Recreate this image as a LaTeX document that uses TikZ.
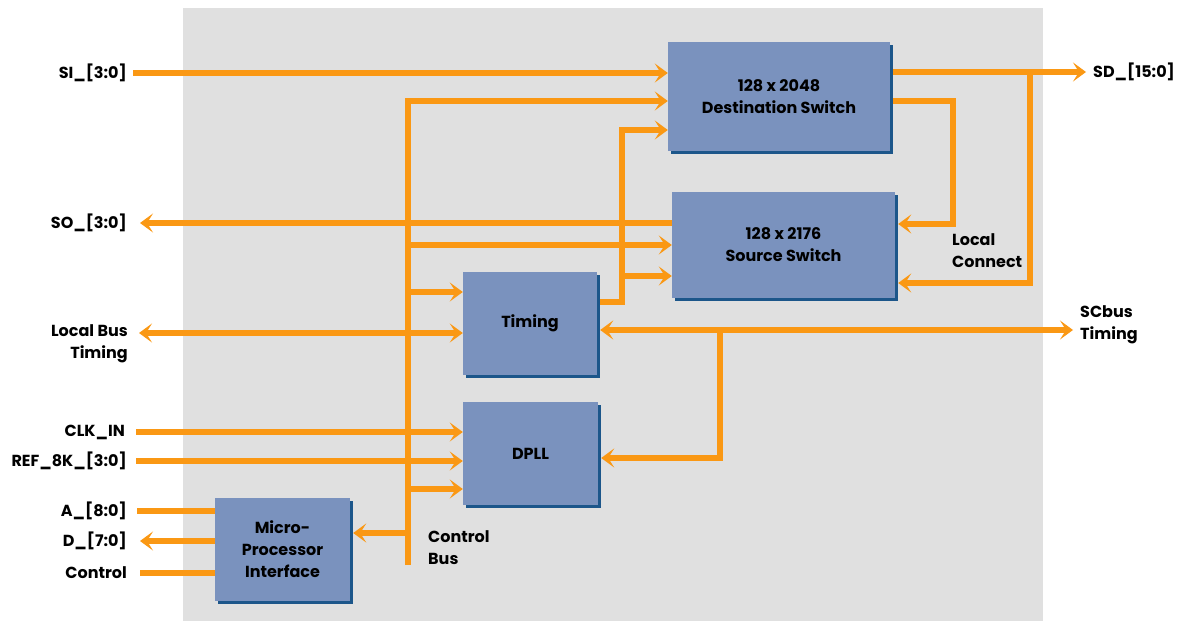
\documentclass[tikz,border=0pt]{standalone}
\usepackage{fontspec}
\setmainfont{Poppins}
\usetikzlibrary{arrows.meta,shadows}
\pgfdeclarelayer{back}
\pgfdeclarelayer{wires}
\pgfsetlayers{back,wires,main}
\definecolor{bgray}{RGB}{224,224,224}
\definecolor{org}{RGB}{250,152,20}
\definecolor{blkblue}{RGB}{122,146,190}
\definecolor{shd}{RGB}{28,86,138}
\begin{document}
\begin{tikzpicture}[x=1pt,y=-1pt,
  font=\fontsize{16}{22}\selectfont\bfseries,
  box/.style={fill=blkblue, inner sep=0pt, align=center,
    general shadow={fill=shd, shadow xshift=3pt, shadow yshift=-3pt}},
  wire/.style={draw=org, line width=6pt, line join=miter},
  tip/.style={-{Stealth[length=13pt,width=19pt,inset=6pt]}},
  tips/.style={{Stealth[length=13pt,width=19pt,inset=6pt]}-{Stealth[length=13pt,width=19pt,inset=6pt]}},
  lbl/.style={anchor=east, inner sep=0pt, align=right},
  rlbl/.style={anchor=west, inner sep=0pt, align=left},
]
\useasboundingbox (0,0) rectangle (1187,621);
\begin{pgfonlayer}{back}
\fill[bgray] (183,8) rectangle (1043,621);
\end{pgfonlayer}

% blocks
\node[box, minimum width=222pt, minimum height=109pt] (dest) at (779,96.5) {128 x 2048\\Destination Switch};
\node[box, minimum width=223pt, minimum height=106pt] (src) at (783.5,245) {128 x 2176\\Source Switch};
\node[box, minimum width=134pt, minimum height=103pt] (timing) at (530,323.5) {Timing};
\node[box, minimum width=135pt, minimum height=103pt] (dpll) at (530.5,453.5) {DPLL};
\node[box, minimum width=135pt, minimum height=103pt] (micro) at (282.5,549) {Micro-\\Processor\\Interface};

% labels
\node[lbl] (si) at (127,73) {SI\_[3:0]};
\node[lbl] (so) at (127,223) {SO\_[3:0]};
\node[lbl] (lbt) at (128,344) {Local Bus\\Timing};
\node[lbl] (clk) at (125,432) {CLK\_IN};
\node[lbl] (ref) at (127,461) {REF\_8K\_[3:0]};
\node[lbl] (adr) at (127,511) {A\_[8:0]};
\node[lbl] (dat) at (127,541) {D\_[7:0]};
\node[lbl] (ctl) at (127,573) {Control};
\node[rlbl] (sd) at (1093,72) {SD\_[15:0]};
\node[rlbl] (scbus) at (1080,325) {SCbus\\Timing};
\node[rlbl] (lcon) at (952,251) {Local\\Connect};
\node[rlbl] (cbus) at (428,548) {Control\\Bus};

% junction coordinates
\coordinate (cbTop) at (408,101);
\coordinate (cbBot) at (408,565);
\coordinate (cbS) at (408,245);
\coordinate (cbT) at (408,292);
\coordinate (cbD) at (408,489);
\coordinate (cbM) at (408,533);
\coordinate (tj) at (622,302);
\coordinate (tb) at (622,276);
\coordinate (tTop) at (622,130);
\coordinate (sdj) at (1030,72);
\coordinate (sdb) at (1030,283);
\coordinate (lc1) at (953,101);
\coordinate (lc2) at (953,224);
\coordinate (scj) at (720,330);
\coordinate (scb) at (720,458);

\begin{pgfonlayer}{wires}
% inputs on the left
\draw[wire,tip] ([xshift=6pt]si.east) -- (si.east -| dest.west);
\draw[wire,tip] (so.east -| src.west) -- ([xshift=13pt]so.east);
\draw[wire,tips] ([xshift=11pt]lbt.east |- 0,333) -- (timing.west |- 0,333);
\draw[wire,tip] ([xshift=11pt]clk.east) -- (clk.east -| dpll.west);
\draw[wire,tip] ([xshift=9pt]ref.east) -- (ref.east -| dpll.west);
\draw[wire] ([xshift=10pt]adr.east) -- (adr.east -| micro.west);
\draw[wire,tip] (dat.east -| micro.west) -- ([xshift=13pt]dat.east);
\draw[wire] ([xshift=13pt]ctl.east) -- (ctl.east -| micro.west);
% control bus
\draw[wire,tip] (cbBot) -- (cbTop) -- (cbTop -| dest.west);
\draw[wire,tip] (cbS) -- (cbS -| src.west);
\draw[wire,tip] (cbT) -- (cbT -| timing.west);
\draw[wire,tip] (cbD) -- (cbD -| dpll.west);
\draw[wire,tip] (cbM) -- ([xshift=3pt]cbM -| micro.east);
% timing outputs
\draw[wire,tip] (tj -| timing.east) -- (tj) -- (tTop) -- (tTop -| dest.west);
\draw[wire,tip] (tb) -- (tb -| src.west);
% SCbus
\draw[wire,tips] ([xshift=3pt]scj -| timing.east) -- ([xshift=-7pt]scj -| scbus.west);
\draw[wire,tip] (scj) -- (scb) -- ([xshift=3pt]scb -| dpll.east);
% destination outputs
\draw[wire,tip] (sdj -| dest.east) -- ([xshift=-7pt]sd.west);
\draw[wire,tip] (sdj) -- (sdb) -- ([xshift=3pt]sdb -| src.east);
\draw[wire,tip] (lc1 -| dest.east) -- (lc1) -- (lc2) -- ([xshift=3pt]lc2 -| src.east);
\end{pgfonlayer}
\end{tikzpicture}
\end{document}
